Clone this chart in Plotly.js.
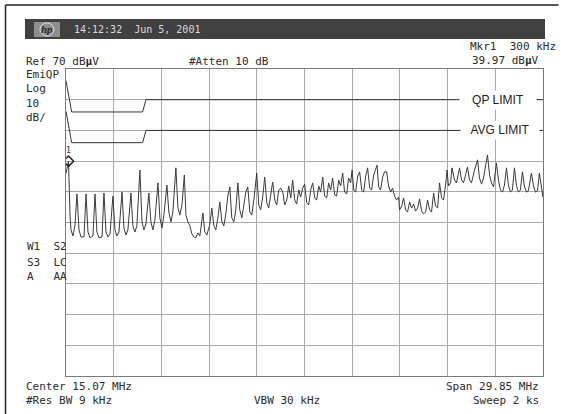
<!DOCTYPE html>
<html>
<head>
<meta charset="utf-8">
<script src="https://cdn.plot.ly/plotly-3.0.1.min.js"></script>
<style>html,body{margin:0;padding:0;background:#fff;}#chart{width:561px;height:414px;}</style>
</head>
<body>
<div id="chart"></div>
<script>
// Analyzer settings
const centerMHz = 15.07;
const spanMHz = 29.85;
const refLevel = 70;     // dBµV
const dbPerDiv = 10;

const freqA = [0.145,0.30,0.40,0.46,0.58,0.71,0.83,0.96,1.08,1.27,1.40,1.52,1.65,1.83,1.96,2.08,2.21,2.40,2.52,2.65,2.77,2.90,3.08,3.21,3.33,3.46,3.65,3.77,3.90,4.02,4.21,4.33,4.46,4.58,4.77,4.90,5.02,5.15,5.33,5.46,5.58,5.71,5.90,6.02,6.15,6.27,6.46,6.58,6.71,6.83,7.02,7.15,7.27,7.40,7.55,7.65,7.77,7.90,8.02,8.15];
const levelA = [36.0,39.97,22.0,17.6,15.6,19.2,29.3,17.6,15.3,15.3,29.3,16.9,15.0,15.6,29.3,16.9,15.0,15.3,29.6,16.9,15.3,16.3,28.6,17.6,15.6,16.9,29.9,18.2,15.9,17.6,29.6,18.9,16.9,18.9,37.1,20.2,17.6,19.5,29.6,20.2,17.6,20.8,32.9,21.5,18.2,22.4,32.2,23.4,20.2,23.4,37.8,24.7,22.4,25.7,35.5,22.4,20.2,18.9,16.3,15.3];

const freqB = [8.27,8.40,8.52,8.71,8.83,8.96,9.15,9.27,9.40,9.52,9.65,9.77,9.90,10.02,10.15,10.27,10.40,10.52,10.65,10.77,10.90,11.02,11.15,11.27,11.40,11.52,11.65,11.77,11.90,12.08,12.21,12.33,12.46,12.58,12.71,12.83,12.96,13.08,13.21,13.33,13.46,13.58,13.71,13.83,13.96,14.08,14.21,14.33,14.46,14.58,14.71,14.83,14.96,15.08,15.21,15.33,15.46,15.58,15.71,15.83,15.96,16.08,16.21,16.33,16.46,16.58,16.71,16.83,16.96,17.08,17.21,17.33,17.46,17.58,17.71,17.83,17.96,18.05,18.15,18.27,18.40,18.52,18.65,18.77,18.90,19.02,19.15,19.27,19.40,19.52,19.61,19.71,19.83,19.96,20.08,20.21,20.33,20.46,20.58,20.71,20.83,20.96];
const levelB = [15.0,16.6,15.6,23.1,16.9,15.9,19.5,24.7,18.9,17.6,21.5,26.7,20.2,18.9,22.8,28.6,31.6,21.5,20.2,24.1,32.9,24.1,21.5,25.4,29.9,31.6,23.4,22.4,27.3,36.1,25.7,24.1,28.6,34.8,26.4,24.7,28.9,33.2,27.3,25.7,30.6,31.2,29.9,25.7,27.3,31.9,28.0,33.8,27.3,26.0,30.6,28.3,31.2,32.5,26.4,25.7,30.6,32.9,28.0,27.3,31.9,29.9,34.8,28.6,28.0,32.9,30.6,34.5,29.0,28.6,33.8,31.9,36.1,29.9,29.3,34.5,32.9,37.1,30.6,29.9,35.1,36.5,30.6,29.9,35.1,37.8,31.2,30.6,35.5,37.8,38.7,31.6,30.6,34.8,36.5,36.5,31.9,29.9,31.2,28.6,27.3,28.3];

const freqC = [21.02,21.15,21.27,21.40,21.52,21.65,21.77,21.90,22.02,22.15,22.27,22.40,22.52,22.65,22.77,22.90,23.02,23.15,23.27,23.40,23.52,23.65,23.77,23.90,23.99,24.08,24.21,24.30,24.46,24.58,24.77,24.90,25.02,25.15,25.27,25.40,25.52,25.71,25.90,26.02,26.15,26.27,26.40,26.52,26.65,26.77,26.90,27.08,27.21,27.33,27.46,27.58,27.71,27.83,27.96,28.08,28.21,28.33,28.46,28.58,28.71,28.83,28.96,29.08,29.27,29.40,29.52,29.65,29.77,29.90,29.99];
const levelC = [24.1,25.4,28.0,24.1,23.4,26.7,24.7,26.0,23.7,24.7,27.7,23.7,22.8,23.4,27.3,24.1,23.4,29.6,25.4,24.7,32.9,28.0,27.3,32.2,37.1,31.9,32.9,37.8,33.8,32.9,37.8,33.8,32.9,35.5,38.1,33.8,32.9,37.1,40.4,34.5,32.5,34.5,38.7,42.0,35.5,32.9,31.6,39.4,33.8,30.6,29.9,32.2,37.8,32.2,29.9,30.6,37.8,32.2,29.9,30.6,36.5,31.9,29.9,30.3,36.1,31.9,29.9,30.3,36.1,32.2,28.3];

// Limit lines (MHz, dBµV)
const qpFreq  = [0.145, 0.5, 4.94, 5.15, 29.995];
const qpLevel = [66.2, 56, 56, 60, 60];
const avgFreq  = [0.145, 0.5, 4.94, 5.15, 29.995];
const avgLevel = [56.2, 46, 46, 50, 50];

// Marker 1
const mkrFreq = [0.30];
const mkrLevel = [39.97];

const startF = centerMHz - spanMHz / 2;
const stopF = centerMHz + spanMHz / 2;

const traceF = freqA.concat(freqB, freqC);
const traceL = levelA.concat(levelB, levelC);

const mono = '"DejaVu Sans Mono", "Liberation Mono", monospace';
const txt = '#2b2b2b';

const data = [
  {x: qpFreq, y: qpLevel, mode: 'lines', line: {color: '#333', width: 1}, hoverinfo: 'skip'},
  {x: avgFreq, y: avgLevel, mode: 'lines', line: {color: '#333', width: 1}, hoverinfo: 'skip'},
  {x: traceF, y: traceL, mode: 'lines', line: {color: '#3a3a3a', width: 1}, hoverinfo: 'skip'},
  {x: mkrFreq, y: mkrLevel, mode: 'markers', marker: {symbol: 'diamond-open', size: 8, color: '#222', line: {width: 1.5, color: '#222'}}, hoverinfo: 'skip'}
];

function lab(text, x, y, xanchor, size, color, extra) {
  return Object.assign({text: text, xref: 'paper', yref: 'paper', x: x, y: y, xanchor: xanchor, yanchor: 'middle',
    showarrow: false, font: {family: mono, size: size || 11, color: color || txt}}, extra || {});
}

const annotations = [
  lab('14:12:32  Jun 5, 2001', 0.0126, 1.1287, 'left', 10, '#dcdcdc'),
  lab('<i><b>hp</b></i>', -0.0398, 1.1287, 'center', 10, '#2a2a2a', {font: {family: '"Liberation Serif", serif', size: 11, color: '#2a2a2a'}}),
  lab('Ref 70 dB<b>µ</b>V', -0.0880, 1.0244, 'left'),
  lab('#Atten 10 dB', 0.2538, 1.0244, 'left'),
  lab('Mkr1  300 kHz', 1.0314, 1.0717, 'right'),
  lab('39.97 dB<b>µ</b>V', 0.9958, 1.0261, 'right'),
  lab('EmiQP', -0.0880, 0.9837, 'left'),
  lab('Log', -0.0880, 0.9349, 'left'),
  lab('10', -0.0880, 0.8860, 'left'),
  lab('dB/', -0.0880, 0.8404, 'left'),
  lab('W1  S2', -0.0860, 0.4202, 'left'),
  lab('S3  LC', -0.0860, 0.3713, 'left'),
  lab('A   AA', -0.0860, 0.3257, 'left'),
  lab('Center 15.07 MHz', -0.0880, -0.0326, 'left'),
  lab('#Res BW 9 kHz', -0.0880, -0.0782, 'left'),
  lab('VBW 30 kHz', 0.4633, -0.0782, 'center'),
  lab('Span 29.85 MHz', 0.9958, -0.0326, 'right'),
  lab('Sweep 2 ks', 0.9958, -0.0782, 'right'),
  {text: 'QP LIMIT', xref: 'paper', yref: 'y', x: 0.9057, y: qpLevel[4], xanchor: 'center', yanchor: 'middle', showarrow: false,
   bgcolor: '#ffffff', borderpad: 0, width: 76, height: 18, font: {family: '"Liberation Sans", Arial, sans-serif', size: 12, color: '#222'}},
  {text: 'AVG LIMIT', xref: 'paper', yref: 'y', x: 0.9099, y: avgLevel[4], xanchor: 'center', yanchor: 'middle', showarrow: false,
   bgcolor: '#ffffff', borderpad: 0, width: 78, height: 18, font: {family: '"Liberation Sans", Arial, sans-serif', size: 12, color: '#222'}},
  {text: '1', xref: 'x', yref: 'y', x: mkrFreq[0], y: mkrLevel[0], yshift: 11, xanchor: 'center', yanchor: 'middle', showarrow: false,
   font: {family: mono, size: 8, color: '#222'}}
];

const shapes = [
  // outer frame (top and left edges)
  {type: 'line', xref: 'paper', yref: 'paper', x0: -0.1268, x1: 1.0325, y0: 1.2085, y1: 1.2085, line: {color: '#222', width: 1.5}},
  {type: 'line', xref: 'paper', yref: 'paper', x0: -0.1268, x1: -0.1268, y0: 1.2085, y1: -0.14, line: {color: '#222', width: 1.5}},
  // title bar
  {type: 'rect', xref: 'paper', yref: 'paper', x0: -0.0860, x1: 1.0042, y0: 1.0977, y1: 1.1629, fillcolor: '#404040', line: {width: 0}},
  // hp logo
  {type: 'rect', xref: 'paper', yref: 'paper', x0: -0.0671, x1: -0.0126, y0: 1.1042, y1: 1.1531, fillcolor: '#8e8e8e', line: {width: 0}},
  {type: 'circle', xref: 'paper', yref: 'paper', x0: -0.0545, x1: -0.0252, y0: 1.1075, y1: 1.1500, fillcolor: 'rgba(0,0,0,0)', line: {color: '#e0e0e0', width: 1}}
];

const layout = {
  width: 561, height: 414,
  margin: {l: 66, r: 18, t: 69, b: 38, pad: 0},
  paper_bgcolor: '#ffffff', plot_bgcolor: '#ffffff',
  showlegend: false,
  xaxis: {range: [startF, stopF], tick0: startF, dtick: spanMHz / 10, showticklabels: false, ticks: '',
          showgrid: true, gridcolor: '#a8a8a8', gridwidth: 1, zeroline: false,
          showline: true, mirror: true, linecolor: '#7a7a7a', linewidth: 1},
  yaxis: {range: [refLevel - 10 * dbPerDiv, refLevel], tick0: refLevel, dtick: dbPerDiv, showticklabels: false, ticks: '',
          showgrid: true, gridcolor: '#a8a8a8', gridwidth: 1, zeroline: false,
          showline: true, mirror: true, linecolor: '#7a7a7a', linewidth: 1},
  annotations: annotations,
  shapes: shapes
};

Plotly.newPlot('chart', data, layout, {displayModeBar: false, staticPlot: true});
</script>
</body>
</html>
